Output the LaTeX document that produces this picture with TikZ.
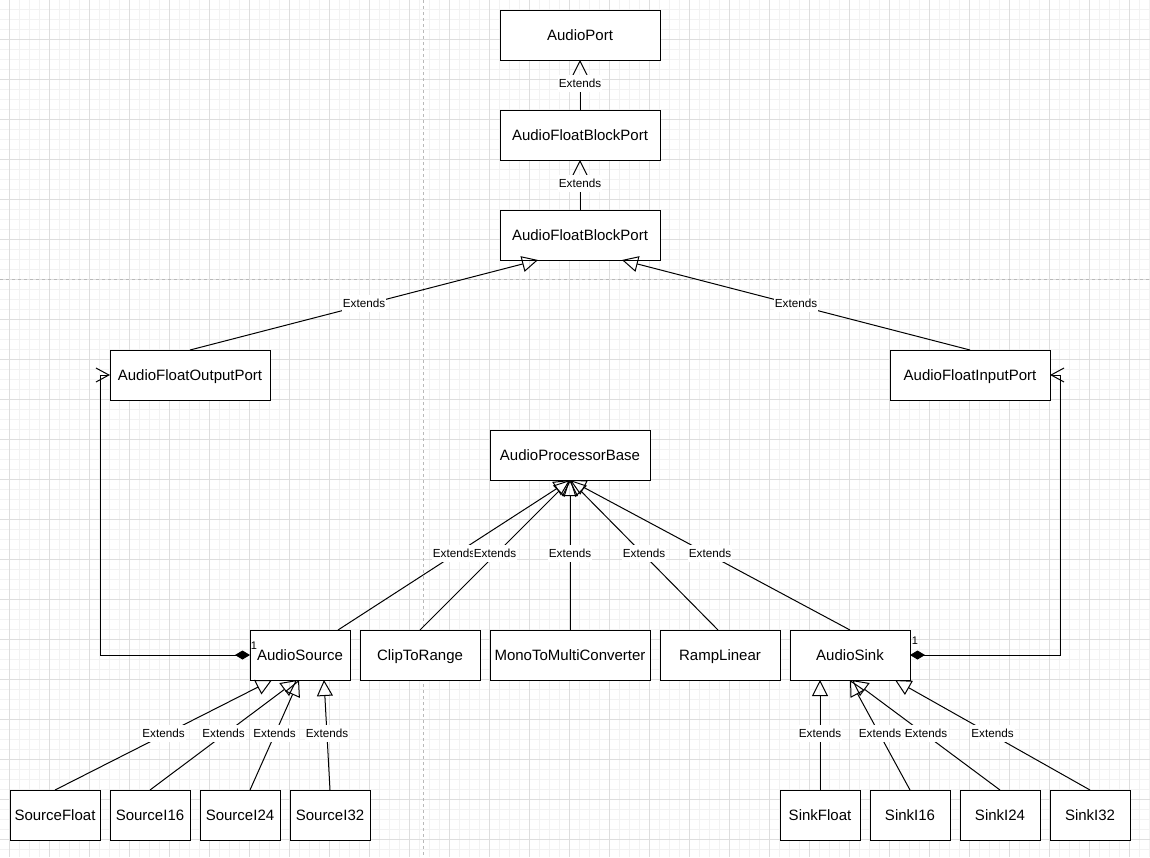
\documentclass[tikz,border=0pt]{standalone}
\usepackage{fontspec}
\setmainfont{Liberation Sans}
\usetikzlibrary{arrows.meta,positioning}
\definecolor{gridmajor}{RGB}{222,222,222}
\definecolor{gridminor}{RGB}{242,242,242}
\definecolor{pagebreak}{RGB}{185,185,185}

\begin{document}
\begin{tikzpicture}[x=1pt,y=-1pt,node distance=10pt,line width=1pt]

  \tikzstyle{cls}=[rectangle,draw=black,fill=white,minimum height=50pt,
                   text height=10.8pt,text depth=0pt,
                   inner sep=0pt,outer sep=0pt,font=\fontsize{15}{18}\selectfont]
  \tikzstyle{lbl}=[fill=white,inner xsep=1pt,inner ysep=4.6pt,yshift=1.5pt,
                   font=\fontsize{11.7}{14}\selectfont]
  \tikzstyle{mult}=[inner sep=0pt,font=\fontsize{11}{13}\selectfont]
  \tikzstyle{ext}=[-{Triangle[open,length=16pt,width=16pt]}]
  \tikzstyle{comp}=[{Diamond[length=15pt,width=9pt]}-{Straight Barb[length=13pt,width=14pt]}]

  % grid and page breaks
  \useasboundingbox (0,0) rectangle (1150,857);
  \foreach \x in {9.5,19.5,...,1150} \draw[gridminor] (\x,0) -- (\x,857);
  \foreach \y in {9.5,19.5,...,857} \draw[gridminor] (0,\y) -- (1150,\y);
  \foreach \x in {9.5,49.5,...,1150} \draw[gridmajor] (\x,0) -- (\x,857);
  \foreach \y in {-0.5,39.5,...,857} \draw[gridmajor] (0,\y) -- (1150,\y);
  \draw[pagebreak,dash pattern=on 3pt off 3pt] (423,0) -- (423,857);
  \draw[pagebreak,dash pattern=on 3pt off 3pt] (0,279.5) -- (1150,279.5);

  \begin{scope}
    \node [cls, minimum width=160pt] (port) at (580,35) {AudioPort};
    \node [cls, minimum width=160pt] (floatBlk) [below=50pt of port] {AudioFloatBlockPort};
    \node [cls, minimum width=160pt] (floatBlk2) [below=50pt of floatBlk] {AudioFloatBlockPort};
    \node [cls, minimum width=160pt] (outPort) at (190,375) {AudioFloatOutputPort};
    \node [cls, minimum width=160pt] (inPort) at (970,375) {AudioFloatInputPort};
    \node [cls, minimum width=160pt] (procBase) at (570,455) {AudioProcessorBase};

    \node [cls, minimum width=100pt] (src) at (300,655) {AudioSource};
    \node [cls, minimum width=120pt] (clip) [right=of src] {ClipToRange};
    \node [cls, minimum width=160pt] (mono) [right=of clip] {MonoToMultiConverter};
    \node [cls, minimum width=120pt] (ramp) [right=of mono] {RampLinear};
    \node [cls, minimum width=120pt] (sink) [right=of ramp] {AudioSink};

    \node [cls, minimum width=90pt] (srcF) at (55,815) {SourceFloat};
    \node [cls, minimum width=80pt] (src16) [right=of srcF] {SourceI16};
    \node [cls, minimum width=80pt] (src24) [right=of src16] {SourceI24};
    \node [cls, minimum width=80pt] (src32) [right=of src24] {SourceI32};

    \node [cls, minimum width=80pt] (sinkF) at (820,815) {SinkFloat};
    \node [cls, minimum width=80pt] (sink16) [right=of sinkF] {SinkI16};
    \node [cls, minimum width=80pt] (sink24) [right=of sink16] {SinkI24};
    \node [cls, minimum width=80pt] (sink32) [right=of sink24] {SinkI32};

    \path
    (floatBlk) edge [ext] node[lbl] {Extends} (port)
    (floatBlk2) edge [ext] node[lbl] {Extends} (floatBlk)
    (outPort.north) edge [ext] node[lbl] {Extends} ([xshift=-42pt]floatBlk2.south)
    (inPort.north) edge [ext] node[lbl] {Extends} ([xshift=42pt]floatBlk2.south)

    ([xshift=38pt]src.north) edge [ext] node[lbl] {Extends} (procBase.south)
    (clip.north) edge [ext] node[lbl] {Extends} (procBase.south)
    (mono.north) edge [ext] node[lbl] {Extends} (procBase.south)
    ([xshift=-2pt]ramp.north) edge [ext] node[lbl] {Extends} (procBase.south)
    (sink.north) edge [ext] node[lbl] {Extends} (procBase.south)

    (srcF.north) edge [ext] node[lbl] {Extends} ([xshift=-28pt]src.south)
    (src16.north) edge [ext] node[lbl] {Extends} ([xshift=-3pt]src.south)
    ([xshift=10pt]src24.north) edge [ext] node[lbl] {Extends} ([xshift=-1pt]src.south)
    (src32.north) edge [ext] node[lbl] {Extends} ([xshift=24pt]src.south)

    (sinkF.north) edge [ext] node[lbl] {Extends} ([xshift=-30pt]sink.south)
    (sink16.north) edge [ext] node[lbl] {Extends} (sink.south)
    (sink24.north) edge [ext] node[lbl] {Extends} ([xshift=2pt]sink.south)
    (sink32.north) edge [ext] node[lbl] {Extends} ([xshift=45pt]sink.south);

    \draw [comp] (src.west) -- ++(-150,0) |- (outPort.west);
    \draw [comp] (sink.east) -- ++(150,0) |- (inPort.east);
    \node [mult] (srcMult) at ([shift={(4,-9)}]src.west) {1};
    \node [mult] (sinkMult) at ([shift={(5,-14)}]sink.east) {1};
  \end{scope}

\end{tikzpicture}
\end{document}
